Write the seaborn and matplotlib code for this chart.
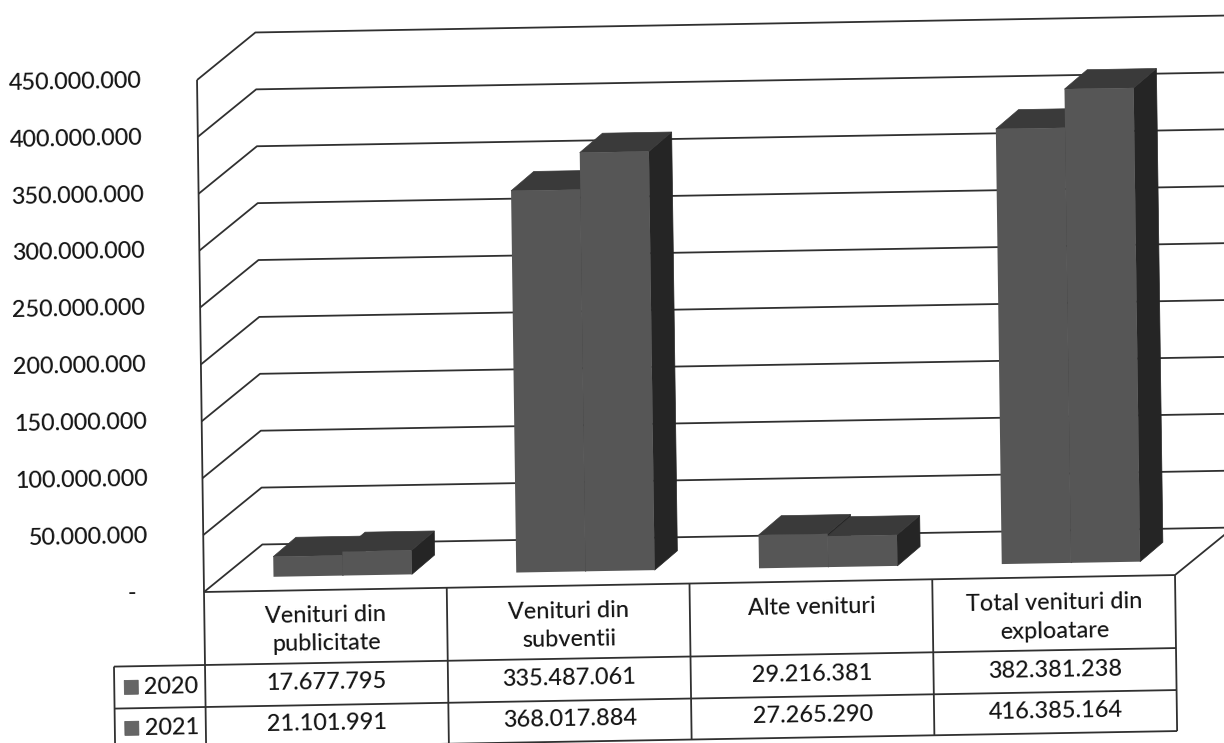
import numpy as np
import pandas as pd
import matplotlib
matplotlib.use('Agg')
import matplotlib.pyplot as plt
import seaborn as sns
from matplotlib.patches import Polygon, Rectangle
from matplotlib.transforms import Affine2D

categories = ['Venituri din\npublicitate', 'Venituri din\nsubventii', 'Alte venituri', 'Total venituri din\nexploatare']
years = ['2020', '2021']
values_2020 = [17677795, 335487061, 29216381, 382381238]
values_2021 = [21101991, 368017884, 27265290, 416385164]
labels_2020 = ['17.677.795', '335.487.061', '29.216.381', '382.381.238']
labels_2021 = ['21.101.991', '368.017.884', '27.265.290', '416.385.164']
y_ticks = [0, 50000000, 100000000, 150000000, 200000000, 250000000, 300000000, 350000000, 400000000, 450000000]
y_labels = ['-', '50.000.000', '100.000.000', '150.000.000', '200.000.000', '250.000.000',
            '300.000.000', '350.000.000', '400.000.000', '450.000.000']

df = pd.DataFrame({
    'cat': categories * 2,
    'year': [years[0]] * 4 + [years[1]] * 4,
    'val': values_2020 + values_2021,
})

sns.set_style('white')
plt.rcParams['font.family'] = ['Lato', 'DejaVu Sans']
plt.rcParams['font.weight'] = 'medium'

W, H = 1224, 743
X0, Y0 = 204, H - 592
AX_W, AX_H = 971, 512
FS = 16.9
INK = '#141414'
LINE = '#303030'
FRONT, TOP, SIDE = '#565656', '#3a3a3a', '#252525'

fig = plt.figure(figsize=(W / 100, H / 100), dpi=100)
ax = fig.add_axes([X0 / W, Y0 / H, AX_W / W, AX_H / H])

# Front faces of the bars
sns.barplot(data=df, x='cat', y='val', hue='year', palette=[FRONT, FRONT], saturation=1,
            width=0.57, gap=0, legend=False, ax=ax, linewidth=0)
ax.set_xlim(-0.5, 3.5)
ax.set_ylim(0, 450000000)
ax.axis('off')

# One pixel of the picture in data units
px_x = 4 / AX_W
px_y = 450000000 / AX_H

# The scanned page is slightly skewed
skew = Affine2D().translate(-X0, -Y0).skew_deg(-0.78, 1.0).translate(X0, Y0)
tf = ax.transData + skew


def deep(dx, dy):
    return Affine2D().translate(dx * px_x, dy * px_y) + tf


def line(xs, ys, **kw):
    ax.plot(xs, ys, color=LINE, lw=kw.pop('lw', 1.3), transform=tf, clip_on=False, solid_capstyle='butt', **kw)


WALL_X, WALL_Y = 59 * px_x, 46.5 * px_y
BAR_X, BAR_Y = 23 * px_x, 19 * px_y
left, right = -0.5, 3.5

# Walls and floor
for v in y_ticks:
    line([left, left + WALL_X, right + WALL_X], [v, v + WALL_Y, v + WALL_Y], zorder=1)
line([left, left], [0, 450000000], zorder=1)
line([right, right + WALL_X], [0, WALL_Y], zorder=1)

# Sides and tops of the bars, left to right so they overlap correctly
front_tf = deep(17.5, 14)
z = 2
for bar in sorted(ax.patches, key=lambda p: p.get_x()):
    x, w, h = bar.get_x(), bar.get_width(), bar.get_height()
    side = Polygon([(x + w, 0), (x + w + BAR_X, BAR_Y), (x + w + BAR_X, h + BAR_Y), (x + w, h)],
                   fc=SIDE, ec=SIDE, lw=0.5, transform=front_tf, zorder=z, clip_on=False)
    top = Polygon([(x, h), (x + BAR_X, h + BAR_Y), (x + w + BAR_X, h + BAR_Y), (x + w, h)],
                  fc=TOP, ec=TOP, lw=0.5, transform=front_tf, zorder=z, clip_on=False)
    ax.add_patch(side)
    ax.add_patch(top)
    bar.set_transform(front_tf)
    bar.set_clip_on(False)
    bar.set_zorder(z + 0.5)
    z += 1

# Y labels
for v, lab in zip(y_ticks, y_labels):
    x_lab = left - 55 * px_x if v > 0 else left - 68 * px_x
    ax.text(x_lab, v, lab, ha='right', va='center', fontsize=FS, color=INK,
            transform=tf, rotation=1, rotation_mode='anchor', clip_on=False)

# Data table
col_edges = np.arange(len(categories) + 1) - 0.5
row_head = -73 * px_y
row_1 = -115 * px_y
row_2 = -156 * px_y
key_left = left - 91 * px_x

line([left, right], [0, 0], zorder=6)
line([left, right], [row_head, row_head], zorder=6)
line([key_left, right], [row_1, row_1], zorder=6)
line([key_left, right], [row_2, row_2], zorder=6)
line([key_left, left], [row_head, row_head], zorder=6)
line([key_left, key_left], [row_head, row_2], zorder=6)
for e in col_edges:
    line([e, e], [0, row_2], zorder=6)

for i, cat in enumerate(categories):
    ax.text(i, -15 * px_y, cat, ha='center', va='top', fontsize=FS, color=INK, linespacing=1.45,
            transform=tf, rotation=1, rotation_mode='anchor', clip_on=False)
    ax.text(i, -93 * px_y, labels_2020[i], ha='center', va='center', fontsize=FS, color=INK,
            transform=tf, rotation=1, rotation_mode='anchor', clip_on=False)
    ax.text(i, -134 * px_y, labels_2021[i], ha='center', va='center', fontsize=FS, color=INK,
            transform=tf, rotation=1, rotation_mode='anchor', clip_on=False)

for yr, y_mid in zip(years, [-94 * px_y, -135 * px_y]):
    ax.add_patch(Rectangle((left - 81 * px_x, y_mid - 7 * px_y), 14 * px_x, 14 * px_y, fc='#666666',
                           ec='#555555', lw=0.5, transform=tf, clip_on=False))
    ax.text(left - 61 * px_x, y_mid, yr, ha='left', va='center', fontsize=FS, color=INK,
            transform=tf, rotation=1, rotation_mode='anchor', clip_on=False)

fig.savefig('out.png', dpi=100, facecolor='white')
